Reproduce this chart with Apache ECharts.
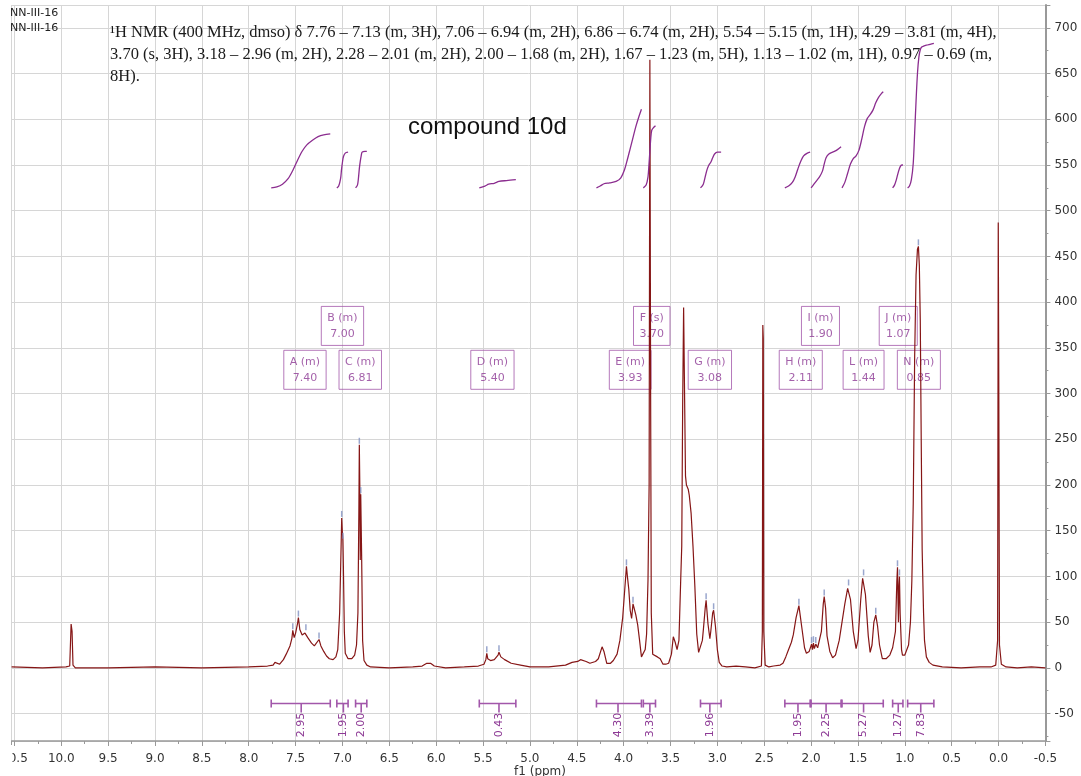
<!DOCTYPE html>
<html><head><meta charset="utf-8">
<script src="https://cdn.jsdelivr.net/npm/echarts@6/dist/echarts.min.js"></script>
<style>html,body{margin:0;padding:0;background:#fff}#c{width:1081px;height:776px}</style>
</head><body><div id="c"></div>
<script>
// ---------- data ----------
const xTicks = { min: -0.5, max: 10.53, step: 0.5 };
const yTicks = { min: -80, max: 725 };

const spectrum = [
 [10.53,1],[10.2,0],[9.95,1],[9.91,2],[9.895,48],[9.885,40],[9.875,3],[9.85,0],[9.5,0],[9.0,1],[8.5,0],[8.0,1],
 [7.80,2],[7.74,3],[7.72,6],[7.70,4],[7.67,4],[7.63,9],[7.60,15],[7.56,24],[7.54,32],[7.53,41],[7.515,33],[7.50,38],
 [7.48,48],[7.47,55],[7.455,42],[7.43,36],[7.40,38],[7.39,40],[7.37,33],[7.33,27],[7.30,24],[7.28,26],[7.25,31],
 [7.23,24],[7.20,18],[7.17,13],[7.14,10],[7.10,9],[7.07,12],[7.05,20],[7.03,60],[7.015,130],[7.008,164],[7.002,150],
 [6.995,140],[6.99,110],[6.98,40],[6.97,16],[6.94,10],[6.90,10],[6.87,14],[6.85,25],[6.835,60],[6.825,170],[6.82,244],
 [6.815,200],[6.81,118],[6.805,190],[6.80,190],[6.795,120],[6.785,30],[6.77,8],[6.74,3],[6.70,1],[6.5,0],[6.25,1],
 [6.15,2],[6.10,5],[6.06,5],[6.02,2],[5.9,0],[5.7,1],[5.55,2],[5.49,4],[5.47,9],[5.46,16],[5.45,10],[5.42,8],[5.38,9],
 [5.34,14],[5.33,17],[5.31,12],[5.27,9],[5.20,5],[5.10,3],[5.0,1],[4.80,1],[4.62,3],[4.55,6],[4.49,7],[4.46,9],[4.44,8],
 [4.40,7],[4.36,5],[4.30,7],[4.27,10],[4.23,23],[4.21,18],[4.18,5],[4.14,5],[4.11,8],[4.07,15],[4.04,30],[4.01,55],
 [3.985,90],[3.97,111],[3.96,100],[3.945,86],[3.93,63],[3.915,54],[3.90,70],[3.89,66],[3.87,58],[3.85,47],[3.83,30],
 [3.81,12],[3.79,11],[3.77,20],[3.755,37],[3.74,96],[3.728,200],[3.72,665],[3.712,300],[3.705,60],[3.69,15],[3.67,13],
 [3.64,12],[3.61,10],[3.58,4],[3.55,4],[3.52,5],[3.49,15],[3.47,34],[3.45,28],[3.43,20],[3.41,30],[3.39,100],[3.38,133],
 [3.37,290],[3.36,394],[3.35,300],[3.34,210],[3.33,200],[3.31,195],[3.30,189],[3.28,169],[3.26,133],[3.24,89],[3.22,37],
 [3.20,17],[3.18,15],[3.16,30],[3.15,41],[3.13,65],[3.12,74],[3.10,48],[3.08,32],[3.07,40],[3.05,60],[3.04,63],[3.02,45],
 [3.00,20],[2.98,6],[2.95,2],[2.90,1],[2.8,2],[2.7,1],[2.6,0],[2.53,2],[2.52,40],[2.515,375],[2.51,360],[2.505,40],
 [2.49,3],[2.45,1],[2.40,2],[2.33,3],[2.30,5],[2.27,12],[2.24,20],[2.21,28],[2.19,36],[2.16,55],[2.13,68],[2.12,67],
 [2.10,45],[2.07,22],[2.05,16],[2.02,18],[1.995,26],[1.985,20],[1.975,27],[1.965,21],[1.95,26],[1.93,22],[1.91,22],
 [1.89,40],[1.87,70],[1.86,78],[1.845,65],[1.83,35],[1.80,18],[1.77,11],[1.74,14],[1.70,30],[1.67,50],[1.64,70],
 [1.61,87],[1.60,89],[1.58,75],[1.55,40],[1.52,21],[1.50,30],[1.47,75],[1.45,98],[1.44,100],[1.42,80],[1.39,35],
 [1.37,17],[1.35,25],[1.33,50],[1.31,58],[1.29,45],[1.27,25],[1.24,10],[1.20,10],[1.16,14],[1.13,22],[1.10,40],
 [1.085,95],[1.078,110],[1.072,70],[1.068,50],[1.062,90],[1.057,100],[1.05,60],[1.045,46],[1.035,20],[1.025,14],
 [1.00,14],[0.98,16],[0.96,25],[0.94,50],[0.925,95],[0.91,180],[0.895,340],[0.88,430],[0.865,458],[0.855,461],
 [0.845,440],[0.835,380],[0.825,250],[0.815,130],[0.80,60],[0.79,30],[0.77,12],[0.74,6],[0.70,3],[0.60,1],[0.4,0],
 [0.2,1],[0.08,1],[0.03,3],[0.01,30],[0.003,487],[-0.003,300],[-0.01,25],[-0.03,4],[-0.08,1],[-0.2,0],[-0.35,1],[-0.5,0]
];

const peakPicks = [[7.53,41],[7.47,55],[7.39,40],[7.25,31],[7.008,164],[6.995,140],[6.82,244],[6.805,190],[5.46,16],
 [5.33,17],[3.97,111],[3.90,70],[3.12,74],[3.04,63],[2.13,68],[1.995,26],[1.975,27],[1.95,26],[1.86,78],[1.60,89],
 [1.44,100],[1.31,58],[1.078,110],[1.057,100],[0.855,461]];

const peakNames  = ['A (m)','B (m)','C (m)','D (m)','E (m)','F (s)','G (m)','H (m)','I (m)','L (m)','J (m)','N (m)'];
const peakShifts = [7.40, 7.00, 6.81, 5.40, 3.93, 3.70, 3.08, 2.11, 1.90, 1.44, 1.07, 0.85];

const integralStarts  = [7.76, 7.06, 6.86, 5.54, 4.29, 3.79, 3.18, 2.28, 2.00, 1.67, 1.13, 0.97];
const integralEnds    = [7.13, 6.94, 6.74, 5.15, 3.81, 3.66, 2.96, 2.01, 1.68, 1.23, 1.02, 0.69];
const integralCenters = [7.44, 6.99, 6.80, 5.33, 4.06, 3.72, 3.08, 2.14, 1.84, 1.44, 1.07, 0.83];
const integralValues  = ['2.95','1.95','2.00','0.43','4.30','3.39','1.96','1.95','2.25','5.27','1.27','7.83'];

const integralCurves = [
 [[7.76,525],[7.70,526],[7.64,529],[7.58,535],[7.53,544],[7.48,555],[7.43,565],[7.38,572],[7.32,577],[7.26,581],[7.20,583],[7.13,584]],
 [[7.06,525],[7.04,527],[7.02,535],[7.01,545],[7.00,553],[6.99,559],[6.97,563],[6.94,564]],
 [[6.86,525],[6.84,528],[6.83,535],[6.82,546],[6.81,554],[6.80,560],[6.79,564],[6.76,565],[6.74,565]],
 [[5.54,525],[5.48,527],[5.44,529],[5.38,530],[5.33,532],[5.25,533],[5.15,534]],
 [[4.29,525],[4.25,527],[4.21,529.5],[4.15,530.5],[4.08,532],[4.03,536],[3.99,545],[3.96,556],[3.93,568],[3.90,580],[3.87,592],[3.84,602],[3.81,611]],
 [[3.79,525],[3.76,528],[3.74,537],[3.73,550],[3.72,565],[3.71,580],[3.70,588],[3.68,591],[3.66,593]],
 [[3.18,525],[3.15,529],[3.13,537],[3.11,545],[3.09,550],[3.07,553],[3.05,558],[3.03,562],[3.00,564],[2.96,564]],
 [[2.28,525],[2.24,527],[2.20,531],[2.17,537],[2.14,546],[2.11,554],[2.08,560],[2.04,563],[2.01,564]],
 [[2.00,525],[1.97,529],[1.94,533],[1.91,537],[1.88,543],[1.86,551],[1.84,558],[1.81,562],[1.77,564],[1.73,566],[1.68,570]],
 [[1.67,525],[1.64,531],[1.61,541],[1.58,551],[1.55,557],[1.52,560],[1.49,566],[1.46,578],[1.43,592],[1.40,601],[1.37,605],[1.34,610],[1.31,618],[1.28,624],[1.25,628],[1.23,630]],
 [[1.13,525],[1.11,528],[1.09,534],[1.07,542],[1.05,548],[1.03,550],[1.02,550]],
 [[0.97,525],[0.95,527],[0.93,534],[0.91,552],[0.895,585],[0.88,620],[0.865,650],[0.85,668],[0.835,676],[0.82,679],[0.80,680],[0.77,681],[0.73,682],[0.69,683]]
];

const sampleIds = ['NN-III-16', 'NN-III-16'];
const descriptionLines = [
 '\u00B9H NMR (400 MHz, dmso) \u03B4 7.76 \u2013 7.13 (m, 3H), 7.06 \u2013 6.94 (m, 2H), 6.86 \u2013 6.74 (m, 2H), 5.54 \u2013 5.15 (m, 1H), 4.29 \u2013 3.81 (m, 4H),',
 '3.70 (s, 3H), 3.18 \u2013 2.96 (m, 2H), 2.28 \u2013 2.01 (m, 2H), 2.00 \u2013 1.68 (m, 2H), 1.67 \u2013 1.23 (m, 5H), 1.13 \u2013 1.02 (m, 1H), 0.97 \u2013 0.69 (m,',
 '8H).'
];
const chartTitle = 'compound 10d';
const xAxisName = 'f1 (ppm)';

// ---------- layout / style ----------
const labelRow = [0,1,0,0,0,1,0,0,1,0,1,0];
const rowLevel = [326, 374];
const barLevel = -39;
const purpleText = '#8d3a95', purpleLine = '#a257aa', integralColor = '#8b2d8f';
const gridColor = '#d6d6d6', axisColor = '#999999';

const chart = echarts.init(document.getElementById('c'), null, {renderer: 'canvas'});

const series = [];
series.push({
  type: 'line', data: spectrum, showSymbol: false, symbol: 'none',
  lineStyle: {color: '#861616', width: 1.2}, z: 3, animation: false
});
integralCurves.forEach(c => series.push({
  type: 'line', data: c, showSymbol: false, symbol: 'none', smooth: 0.3,
  lineStyle: {color: integralColor, width: 1.3}, z: 4, animation: false
}));
series.push({
  type: 'scatter', data: peakPicks, symbol: 'rect', symbolSize: [1.5, 6], symbolOffset: [0, -4],
  itemStyle: {color: '#7f90c0'}, z: 5, animation: false, silent: true
});
series.push({
  type: 'scatter', symbol: 'rect', symbolSize: 0.1, itemStyle: {color: 'rgba(0,0,0,0)'},
  data: peakShifts.map((s, i) => [s, rowLevel[labelRow[i]]]),
  label: {
    show: true, position: 'inside',
    formatter: p => peakNames[p.dataIndex] + '\n' + peakShifts[p.dataIndex].toFixed(2),
    color: purpleText, fontFamily: 'DejaVu Sans', fontSize: 11, lineHeight: 16, align: 'center',
    borderColor: purpleLine, borderWidth: 1, padding: [4, 6, 3, 6]
  },
  z: 2, animation: false, silent: true
});
series.push({
  type: 'custom', animation: false, silent: true, z: 5,
  data: integralStarts.map((s, i) => [s, integralEnds[i], integralCenters[i]]),
  renderItem: (params, api) => {
    const s = api.coord([api.value(0), barLevel]);
    const e = api.coord([api.value(1), barLevel]);
    const c = api.coord([api.value(2), barLevel]);
    const st = {stroke: purpleLine, lineWidth: 1.6};
    return {type: 'group', children: [
      {type: 'line', shape: {x1: s[0], y1: s[1], x2: e[0], y2: e[1]}, style: st},
      {type: 'line', shape: {x1: s[0], y1: s[1]-4, x2: s[0], y2: s[1]+4}, style: st},
      {type: 'line', shape: {x1: e[0], y1: e[1]-4, x2: e[0], y2: e[1]+4}, style: st},
      {type: 'line', shape: {x1: c[0], y1: c[1], x2: c[0], y2: c[1]+9}, style: st},
      {type: 'text', x: c[0], y: c[1] + 21.5, rotation: Math.PI/2,
       style: {text: integralValues[params.dataIndex], fill: purpleText, font: '11px "DejaVu Sans"',
               align: 'center', verticalAlign: 'middle'}}
    ]};
  }
});

const graphic = [
  {type: 'rect', left: 0, top: 745, shape: {width: 12.5, height: 25}, style: {fill: '#fff'}, z: 100},
  {type: 'text', x: 10, y: 13, style: {text: sampleIds[0], font: '11px "DejaVu Sans"', fill: '#222', verticalAlign: 'middle'}, z: 100},
  {type: 'text', x: 10, y: 28, style: {text: sampleIds[1], font: '11px "DejaVu Sans"', fill: '#222', verticalAlign: 'middle'}, z: 100},
  {type: 'text', x: 540, y: 772, style: {text: xAxisName, font: '12px "DejaVu Sans"', fill: '#333', align: 'center', verticalAlign: 'middle'}, z: 100},
  {type: 'text', x: 408, y: 127, style: {text: chartTitle, font: '24px "Liberation Sans"', fill: '#111', verticalAlign: 'middle'}, z: 100}
];
descriptionLines.forEach((t, i) => graphic.push({
  type: 'text', x: 110, y: 33 + i * 22,
  style: {text: t, font: '16.5px "Liberation Serif"', fill: '#1a1a1a', verticalAlign: 'middle'}, z: 100
}));

chart.setOption({
  animation: false,
  backgroundColor: '#fff',
  grid: {left: 11.6, right: 35.6, top: 5, bottom: 35, containLabel: false, outerBoundsMode: 'none'},
  xAxis: {
    type: 'value', inverse: true, min: xTicks.min, max: xTicks.max, interval: xTicks.step,
    axisLine: {show: true, onZero: false, lineStyle: {color: axisColor, width: 1.5}},
    axisTick: {show: true, length: 5, lineStyle: {color: axisColor}},
    minorTick: {show: true, splitNumber: 2, length: 3, lineStyle: {color: axisColor}},
    axisLabel: {color: '#333', fontFamily: 'DejaVu Sans', fontSize: 12, margin: 12, showMaxLabel: false,
                formatter: v => v.toFixed(1)},
    splitLine: {show: true, lineStyle: {color: gridColor, width: 1}}
  },
  yAxis: {
    type: 'value', position: 'right', min: yTicks.min, max: yTicks.max, splitNumber: 16,
    axisLine: {show: true, onZero: false, lineStyle: {color: axisColor, width: 2}},
    axisTick: {show: true, length: 5, lineStyle: {color: axisColor}},
    minorTick: {show: true, splitNumber: 2, length: 3, lineStyle: {color: axisColor}},
    axisLabel: {color: '#333', fontFamily: 'DejaVu Sans', fontSize: 12, margin: 9, showMinLabel: false, showMaxLabel: false},
    splitLine: {show: true, lineStyle: {color: gridColor, width: 1}}
  },
  graphic: graphic,
  series: series
});
</script></body></html>
